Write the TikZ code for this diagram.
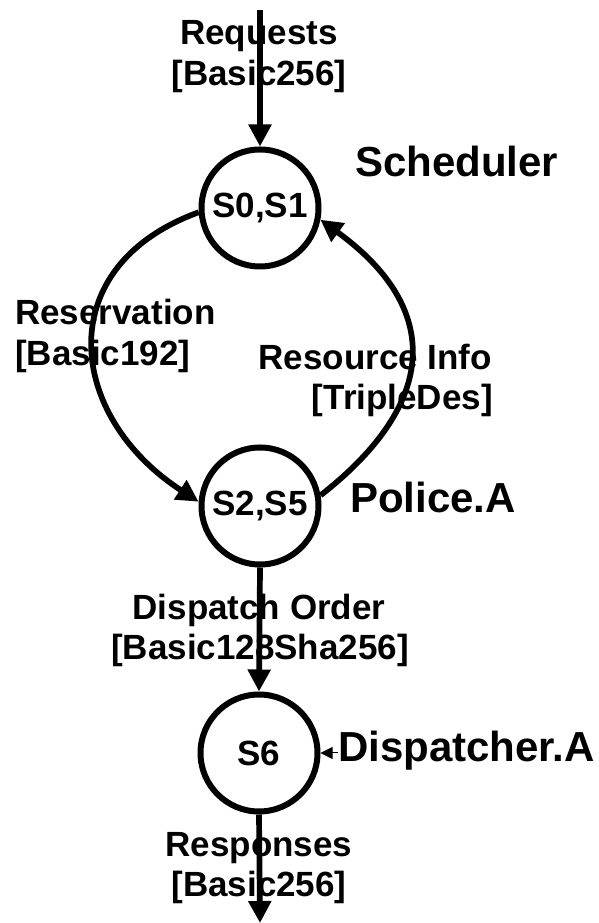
\documentclass[tikz,border=0pt]{standalone}
\usepackage{fontspec}
\setmainfont{Liberation Sans}
\usetikzlibrary{arrows.meta}
\begin{document}
\begin{tikzpicture}[x=1pt,y=1pt,
  lbl/.style={font=\fontsize{35}{40}\selectfont\bfseries, inner sep=0pt},
  big/.style={font=\fontsize{42}{48}\selectfont\bfseries, inner sep=0pt},
  state/.style={circle, draw, line width=6pt, minimum size=117pt, inner sep=0pt,
    font=\fontsize{35}{40}\selectfont\bfseries},
  conn/.style={line width=5.7pt, -{Triangle[length=22pt,width=22pt]}}]
\useasboundingbox (0,0) rectangle (598,923);
% labels
\node[lbl, anchor=base] (lreq) at (259,878) {Requests};
\node[lbl, anchor=base] (lreqb) at (259,837) {[Basic256]};
\node[big, anchor=base west] (sched) at (355,746) {Scheduler};
\node[lbl, anchor=base west] (lres) at (15,598) {Reservation};
\node[lbl, anchor=base west] (lresb) at (15,557) {[Basic192]};
\node[lbl, anchor=base east] (linfo) at (492,553) {Resource Info};
\node[lbl, anchor=base east] (linfob) at (493,513) {[TripleDes]};
\node[big, anchor=base west] (police) at (350,410) {Police.A};
\node[lbl, anchor=base] (ldisp) at (259,303) {Dispatch Order};
\node[lbl, anchor=base] (ldispb) at (260,263) {[Basic128Sha256]};
\node[big, anchor=base west] (dispA) at (338,161) {Dispatcher.A};
\node[lbl, anchor=base] (lresp) at (259,66) {Responses};
\node[lbl, anchor=base] (lrespb) at (259,26) {[Basic256]};
% states
\node[state] (s01) at (260,715) {S0,S1};
\node[state] (s25) at (260,417) {S2,S5};
\node[state] (s6) at (259,170) {S6};
\coordinate (top) at (260,913);
\coordinate (bot) at (260,0);
% connectors
\draw[conn] (top) -- (s01.north);
\draw[conn] (s01.184) to[out=200,in=147,looseness=1.4] (s25.176);
\draw[conn] (s25.10) to[out=38,in=-36,looseness=1.4] (s01.-11);
\draw[conn] (s25.south) -- (s6.north);
\draw[conn] (s6.south) -- (bot);
\draw[line width=1pt, -{Triangle[length=12pt,width=12pt]}] (dispA.west |- s6.east) -- (s6.east);
\end{tikzpicture}
\end{document}
